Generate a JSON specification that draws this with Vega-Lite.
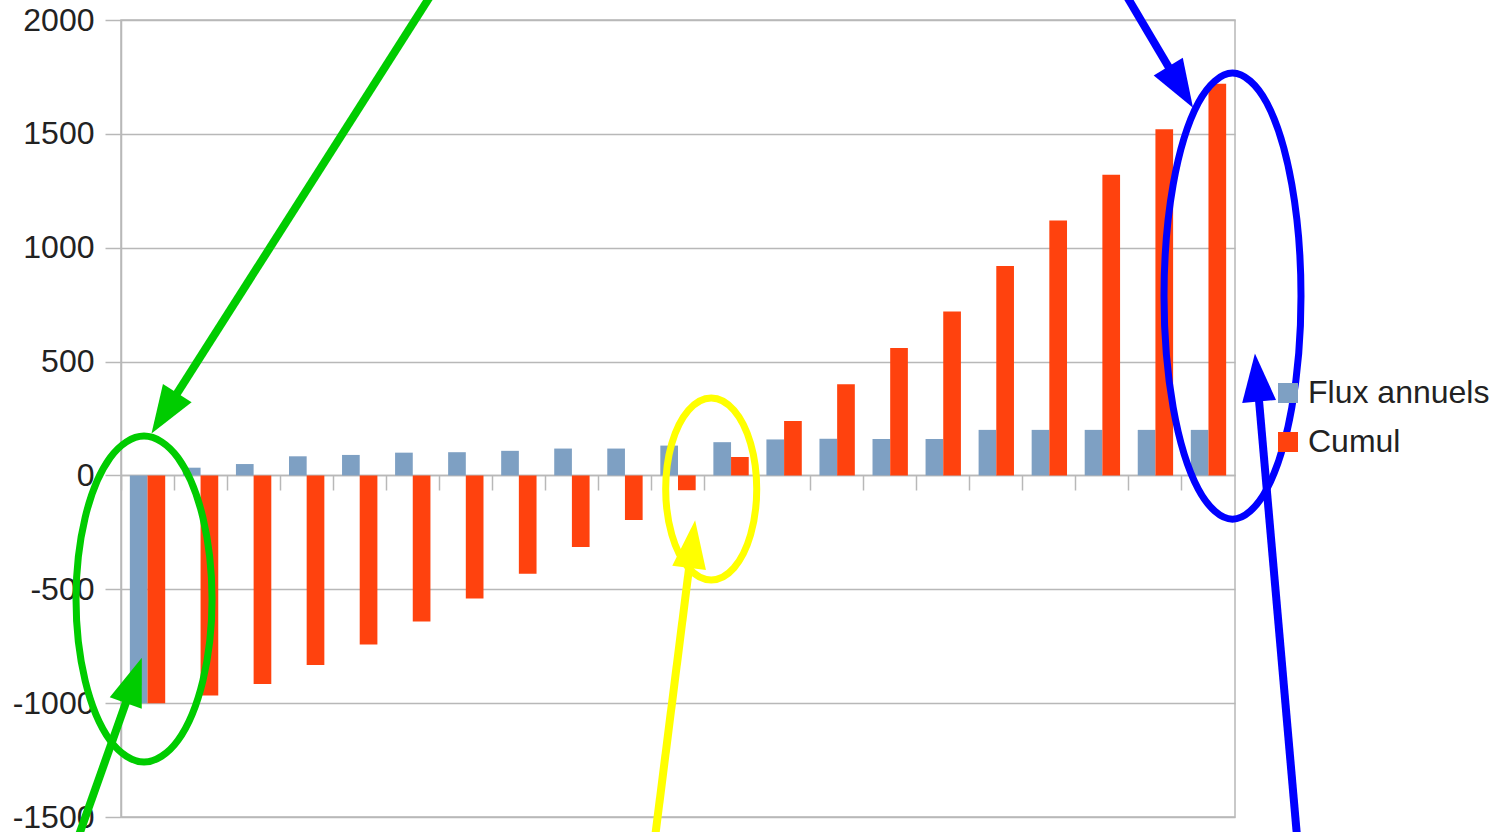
{
  "$schema": "https://vega.github.io/schema/vega-lite/v6.json",
  "width": 1114,
  "height": 797,
  "autosize": {"type": "none"},
  "padding": {"left": 121, "top": 20, "right": 266, "bottom": 15},
  "background": "white",
  "config": {
    "view": {"stroke": "#b8b8b8", "strokeWidth": 1.5},
    "font": "Liberation Sans"
  },
  "datasets": {
    "flux": [
      {"annee": 1, "serie": "Flux annuels", "valeur": -1000},
      {"annee": 2, "serie": "Flux annuels", "valeur": 34},
      {"annee": 3, "serie": "Flux annuels", "valeur": 50},
      {"annee": 4, "serie": "Flux annuels", "valeur": 84},
      {"annee": 5, "serie": "Flux annuels", "valeur": 90},
      {"annee": 6, "serie": "Flux annuels", "valeur": 100},
      {"annee": 7, "serie": "Flux annuels", "valeur": 102},
      {"annee": 8, "serie": "Flux annuels", "valeur": 108},
      {"annee": 9, "serie": "Flux annuels", "valeur": 118},
      {"annee": 10, "serie": "Flux annuels", "valeur": 118},
      {"annee": 11, "serie": "Flux annuels", "valeur": 131},
      {"annee": 12, "serie": "Flux annuels", "valeur": 146},
      {"annee": 13, "serie": "Flux annuels", "valeur": 158},
      {"annee": 14, "serie": "Flux annuels", "valeur": 161},
      {"annee": 15, "serie": "Flux annuels", "valeur": 160},
      {"annee": 16, "serie": "Flux annuels", "valeur": 160},
      {"annee": 17, "serie": "Flux annuels", "valeur": 200},
      {"annee": 18, "serie": "Flux annuels", "valeur": 200},
      {"annee": 19, "serie": "Flux annuels", "valeur": 200},
      {"annee": 20, "serie": "Flux annuels", "valeur": 200},
      {"annee": 21, "serie": "Flux annuels", "valeur": 200},
      {"annee": 1, "serie": "Cumul", "valeur": -1000},
      {"annee": 2, "serie": "Cumul", "valeur": -966},
      {"annee": 3, "serie": "Cumul", "valeur": -916},
      {"annee": 4, "serie": "Cumul", "valeur": -832},
      {"annee": 5, "serie": "Cumul", "valeur": -742},
      {"annee": 6, "serie": "Cumul", "valeur": -642},
      {"annee": 7, "serie": "Cumul", "valeur": -540},
      {"annee": 8, "serie": "Cumul", "valeur": -432},
      {"annee": 9, "serie": "Cumul", "valeur": -314},
      {"annee": 10, "serie": "Cumul", "valeur": -196},
      {"annee": 11, "serie": "Cumul", "valeur": -65},
      {"annee": 12, "serie": "Cumul", "valeur": 81},
      {"annee": 13, "serie": "Cumul", "valeur": 239},
      {"annee": 14, "serie": "Cumul", "valeur": 400},
      {"annee": 15, "serie": "Cumul", "valeur": 560},
      {"annee": 16, "serie": "Cumul", "valeur": 720},
      {"annee": 17, "serie": "Cumul", "valeur": 920},
      {"annee": 18, "serie": "Cumul", "valeur": 1120},
      {"annee": 19, "serie": "Cumul", "valeur": 1320},
      {"annee": 20, "serie": "Cumul", "valeur": 1520},
      {"annee": 21, "serie": "Cumul", "valeur": 1720}
    ],
    "cercles": [
      {"groupe": "vert", "k": 0, "u": 1.716, "v": -543},
      {"groupe": "vert", "k": 1, "u": 1.544, "v": -185},
      {"groupe": "vert", "k": 2, "u": 1.075, "v": 77},
      {"groupe": "vert", "k": 3, "u": 0.434, "v": 173},
      {"groupe": "vert", "k": 4, "u": -0.207, "v": 77},
      {"groupe": "vert", "k": 5, "u": -0.676, "v": -185},
      {"groupe": "vert", "k": 6, "u": -0.848, "v": -543},
      {"groupe": "vert", "k": 7, "u": -0.676, "v": -901},
      {"groupe": "vert", "k": 8, "u": -0.207, "v": -1163},
      {"groupe": "vert", "k": 9, "u": 0.434, "v": -1259},
      {"groupe": "vert", "k": 10, "u": 1.075, "v": -1163},
      {"groupe": "vert", "k": 11, "u": 1.544, "v": -901},
      {"groupe": "jaune", "k": 0, "u": 11.984, "v": -60},
      {"groupe": "jaune", "k": 1, "u": 11.869, "v": 140},
      {"groupe": "jaune", "k": 2, "u": 11.555, "v": 286},
      {"groupe": "jaune", "k": 3, "u": 11.126, "v": 340},
      {"groupe": "jaune", "k": 4, "u": 10.697, "v": 286},
      {"groupe": "jaune", "k": 5, "u": 10.383, "v": 140},
      {"groupe": "jaune", "k": 6, "u": 10.268, "v": -60},
      {"groupe": "jaune", "k": 7, "u": 10.383, "v": -260},
      {"groupe": "jaune", "k": 8, "u": 10.697, "v": -406},
      {"groupe": "jaune", "k": 9, "u": 11.126, "v": -459},
      {"groupe": "jaune", "k": 10, "u": 11.555, "v": -406},
      {"groupe": "jaune", "k": 11, "u": 11.869, "v": -260},
      {"groupe": "bleu", "k": 0, "u": 22.244, "v": 788},
      {"groupe": "bleu", "k": 1, "u": 22.071, "v": 1278},
      {"groupe": "bleu", "k": 2, "u": 21.599, "v": 1636},
      {"groupe": "bleu", "k": 3, "u": 20.953, "v": 1767},
      {"groupe": "bleu", "k": 4, "u": 20.308, "v": 1636},
      {"groupe": "bleu", "k": 5, "u": 19.835, "v": 1278},
      {"groupe": "bleu", "k": 6, "u": 19.662, "v": 788},
      {"groupe": "bleu", "k": 7, "u": 19.835, "v": 298},
      {"groupe": "bleu", "k": 8, "u": 20.308, "v": -60},
      {"groupe": "bleu", "k": 9, "u": 20.953, "v": -192},
      {"groupe": "bleu", "k": 10, "u": 21.599, "v": -60},
      {"groupe": "bleu", "k": 11, "u": 22.071, "v": 298}
    ],
    "fleches": [
      {"fleche": "g1", "groupe": "vert", "u0": 5.844, "v0": 2110, "u1": 0.818, "v1": 273},
      {"fleche": "g2", "groupe": "vert", "u0": -0.811, "v0": -1592, "u1": 0.241, "v1": -900},
      {"fleche": "j1", "groupe": "jaune", "u0": 10.07, "v0": -1584, "u1": 10.766, "v1": -301},
      {"fleche": "b1", "groupe": "bleu", "u0": 18.945, "v0": 2110, "u1": 19.975, "v1": 1705},
      {"fleche": "b2", "groupe": "bleu", "u0": 22.17, "v0": -1588, "u1": 21.415, "v1": 430}
    ]
  },
  "layer": [
    {
      "data": {"name": "flux"},
      "mark": {"type": "bar", "strokeWidth": 0},
      "encoding": {
        "x": {
          "field": "annee",
          "type": "ordinal",
          "scale": {"paddingInner": 0, "paddingOuter": 0},
          "axis": {
            "title": null,
            "labels": false,
            "grid": false,
            "offset": -342,
            "bandPosition": 0,
            "tickSize": 15,
            "tickColor": "#b8b8b8",
            "tickWidth": 1.5,
            "domainColor": "#b8b8b8",
            "domainWidth": 1.5
          }
        },
        "xOffset": {
          "field": "serie",
          "type": "nominal",
          "sort": ["Flux annuels", "Cumul"],
          "scale": {"paddingInner": 0, "paddingOuter": 0.5}
        },
        "y": {
          "field": "valeur",
          "type": "quantitative",
          "scale": {"domain": [-1500, 2000], "nice": false, "zero": false},
          "axis": {
            "title": null,
            "values": [-1500, -1000, -500, 0, 500, 1000, 1500, 2000],
            "labelExpr": "datum.value + ''",
            "labelFont": "Liberation Sans",
            "labelFontSize": 32,
            "labelColor": "#222222",
            "labelPadding": 11,
            "labelFlush": false,
            "labelOverlap": false,
            "tickSize": 16,
            "tickColor": "#b8b8b8",
            "tickWidth": 1.5,
            "domainColor": "#b8b8b8",
            "domainWidth": 1.5,
            "gridColor": "#b8b8b8",
            "gridWidth": 1.5
          }
        },
        "color": {
          "field": "serie",
          "type": "nominal",
          "sort": ["Flux annuels", "Cumul"],
          "scale": {"domain": ["Flux annuels", "Cumul"], "range": ["#7ea0c3", "#ff420e"]},
          "legend": {
            "title": null,
            "orient": "none",
            "legendX": 1151,
            "legendY": 357,
            "padding": 0,
            "symbolType": "square",
            "symbolSize": 400,
            "symbolStrokeWidth": 0,
            "symbolOffset": 0,
            "labelFont": "Liberation Sans",
            "labelFontSize": 32,
            "labelColor": "#222222",
            "labelOffset": 4,
            "labelLimit": 0,
            "rowPadding": 17
          }
        }
      }
    },
    {
      "data": {"name": "cercles"},
      "mark": {"type": "line", "interpolate": "cardinal-closed", "strokeWidth": 7, "clip": false},
      "encoding": {
        "x": {"field": "u", "type": "quantitative", "scale": {"domain": [0, 21], "nice": false, "zero": false}, "axis": null},
        "y": {"field": "v", "type": "quantitative", "scale": {"domain": [-1500, 2000], "nice": false, "zero": false}, "title": null},
        "order": {"field": "k", "type": "quantitative"},
        "detail": {"field": "groupe", "type": "nominal"},
        "stroke": {
          "field": "groupe",
          "type": "nominal",
          "scale": {"domain": ["vert", "jaune", "bleu"], "range": ["#00cc00", "#ffff00", "#0000ff"]},
          "legend": null
        }
      }
    },
    {
      "data": {"name": "fleches"},
      "mark": {"type": "rule", "strokeWidth": 8, "strokeCap": "butt", "clip": false},
      "encoding": {
        "x": {"field": "u0", "type": "quantitative", "scale": {"domain": [0, 21], "nice": false, "zero": false}, "axis": null},
        "x2": {"field": "u1"},
        "y": {"field": "v0", "type": "quantitative", "scale": {"domain": [-1500, 2000], "nice": false, "zero": false}, "title": null},
        "y2": {"field": "v1"},
        "stroke": {
          "field": "groupe",
          "type": "nominal",
          "scale": {"domain": ["vert", "jaune", "bleu"], "range": ["#00cc00", "#ffff00", "#0000ff"]},
          "legend": null
        }
      }
    },
    {
      "data": {"name": "fleches"},
      "transform": [{"filter": "datum.fleche === 'g1'"}],
      "mark": {"type": "point", "shape": "M0,-1L0.708,1L-0.708,1Z", "size": 2304, "filled": true, "opacity": 1, "strokeWidth": 0, "color": "#00cc00", "angle": 212.5, "clip": false},
      "encoding": {
        "x": {"field": "u1", "type": "quantitative", "scale": {"domain": [0, 21], "nice": false, "zero": false}, "axis": null},
        "y": {"field": "v1", "type": "quantitative", "scale": {"domain": [-1500, 2000], "nice": false, "zero": false}, "title": null}
      }
    },
    {
      "data": {"name": "fleches"},
      "transform": [{"filter": "datum.fleche === 'g2'"}],
      "mark": {"type": "point", "shape": "M0,-1L0.708,1L-0.708,1Z", "size": 2304, "filled": true, "opacity": 1, "strokeWidth": 0, "color": "#00cc00", "angle": 19.6, "clip": false},
      "encoding": {
        "x": {"field": "u1", "type": "quantitative", "scale": {"domain": [0, 21], "nice": false, "zero": false}, "axis": null},
        "y": {"field": "v1", "type": "quantitative", "scale": {"domain": [-1500, 2000], "nice": false, "zero": false}, "title": null}
      }
    },
    {
      "data": {"name": "fleches"},
      "transform": [{"filter": "datum.fleche === 'j1'"}],
      "mark": {"type": "point", "shape": "M0,-1L0.708,1L-0.708,1Z", "size": 2304, "filled": true, "opacity": 1, "strokeWidth": 0, "color": "#ffff00", "angle": 7.2, "clip": false},
      "encoding": {
        "x": {"field": "u1", "type": "quantitative", "scale": {"domain": [0, 21], "nice": false, "zero": false}, "axis": null},
        "y": {"field": "v1", "type": "quantitative", "scale": {"domain": [-1500, 2000], "nice": false, "zero": false}, "title": null}
      }
    },
    {
      "data": {"name": "fleches"},
      "transform": [{"filter": "datum.fleche === 'b1'"}],
      "mark": {"type": "point", "shape": "M0,-1L0.708,1L-0.708,1Z", "size": 2304, "filled": true, "opacity": 1, "strokeWidth": 0, "color": "#0000ff", "angle": 148.9, "clip": false},
      "encoding": {
        "x": {"field": "u1", "type": "quantitative", "scale": {"domain": [0, 21], "nice": false, "zero": false}, "axis": null},
        "y": {"field": "v1", "type": "quantitative", "scale": {"domain": [-1500, 2000], "nice": false, "zero": false}, "title": null}
      }
    },
    {
      "data": {"name": "fleches"},
      "transform": [{"filter": "datum.fleche === 'b2'"}],
      "mark": {"type": "point", "shape": "M0,-1L0.708,1L-0.708,1Z", "size": 2304, "filled": true, "opacity": 1, "strokeWidth": 0, "color": "#0000ff", "angle": -5.0, "clip": false},
      "encoding": {
        "x": {"field": "u1", "type": "quantitative", "scale": {"domain": [0, 21], "nice": false, "zero": false}, "axis": null},
        "y": {"field": "v1", "type": "quantitative", "scale": {"domain": [-1500, 2000], "nice": false, "zero": false}, "title": null}
      }
    }
  ],
  "resolve": {"scale": {"x": "independent"}}
}
